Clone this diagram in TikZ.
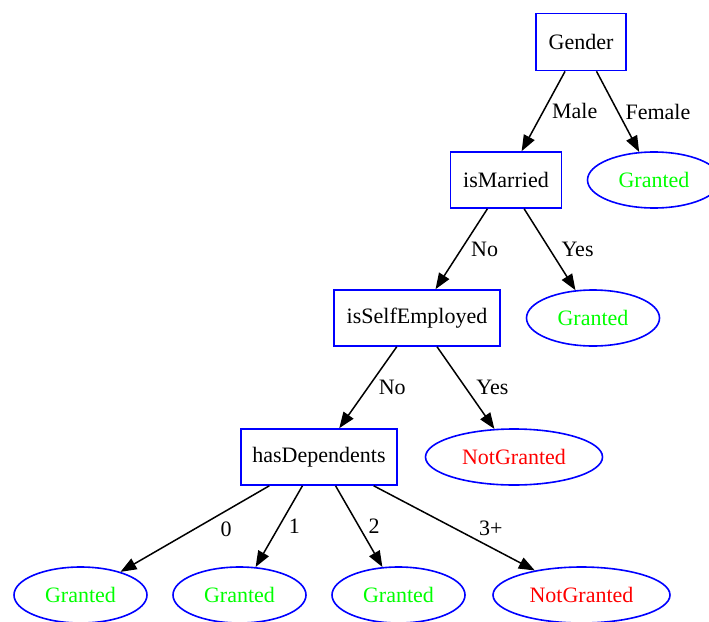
\documentclass[tikz,border=0pt]{standalone}
\usepackage{fontspec}
\setmainfont{Liberation Serif}
\usepackage{tikz}
\usetikzlibrary{positioning}
\usetikzlibrary{shapes.geometric}
\usetikzlibrary{arrows.meta}

\tikzset{
 txt/.style={font=\fontsize{22}{26}\selectfont},
 testbox/.style={txt,draw=blue,line width=1.6pt,rectangle,minimum height=56pt,inner sep=0pt},
 leafok/.style={txt,draw=blue,line width=1.6pt,ellipse,minimum width=133pt,minimum height=56pt,inner sep=0pt,text=green},
 leafno/.style={txt,draw=blue,line width=1.6pt,ellipse,minimum width=177pt,minimum height=56pt,inner sep=0pt,text=red},
 branch/.style={line width=1.5pt,-{Triangle[length=16pt,width=12pt]}},
 edgelbl/.style={txt,anchor=west,inner sep=0pt,pos=0.5}
}

\begin{document}
\begin{tikzpicture}[x=1pt,y=-1pt]
 \useasboundingbox (0,0) rectangle (709,621);
 \node[testbox,minimum width=90pt,minimum height=57pt] (gender) at (581,42) {Gender};
 \node[testbox,minimum width=111pt] (married) at (506,180) {isMarried};
 \node[leafok] (okfemale) at (654,180) {Granted};
 \node[testbox,minimum width=166pt] (selfemp) at (417,318) {isSelfEmployed};
 \node[leafok] (okmarried) at (593,318) {Granted};
 \node[testbox,minimum width=156pt] (depend) at (319,457) {hasDependents};
 \node[leafno] (noselfemp) at (514,457) {NotGranted};
 \node[leafok] (okdep0) at (80.5,595) {Granted};
 \node[leafok] (okdep1) at (239.5,595) {Granted};
 \node[leafok] (okdep2) at (398.5,595) {Granted};
 \node[leafno] (nodep3) at (581.5,595) {NotGranted};
 \draw[branch] (gender) -- node[edgelbl,xshift=8pt] {Male} (married);
 \draw[branch] (gender) -- node[edgelbl,xshift=7pt] {Female} (okfemale);
 \draw[branch] (married) -- node[edgelbl,xshift=9pt] {No} (selfemp);
 \draw[branch] (married) -- node[edgelbl,xshift=11pt] {Yes} (okmarried);
 \draw[branch] (selfemp) -- node[edgelbl,xshift=10pt] {No} (depend);
 \draw[branch] (selfemp) -- node[edgelbl,xshift=10pt] {Yes} (noselfemp);
 \draw[branch] (depend) -- node[edgelbl,xshift=25pt] {0} (okdep0);
 \draw[branch] (depend) -- node[edgelbl,xshift=9pt] {1} (okdep1);
 \draw[branch] (depend) -- node[edgelbl,xshift=9pt] {2} (okdep2);
 \draw[branch] (depend) -- node[edgelbl,xshift=24pt] {3+} (nodep3);
\end{tikzpicture}
\end{document}
